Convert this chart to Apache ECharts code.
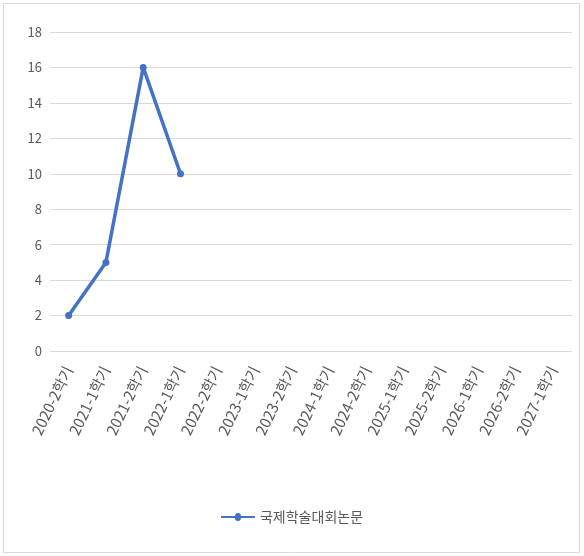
<!DOCTYPE html>
<html><head><meta charset="utf-8">
<script src="https://cdn.jsdelivr.net/npm/echarts@6/dist/echarts.min.js"></script>
<style>html,body{margin:0;padding:0;background:#fff}#c{width:584px;height:556px}</style>
</head><body><div id="c"></div>
<script>
const categories = ['2020-2학기','2021-1학기','2021-2학기','2022-1학기','2022-2학기','2023-1학기','2023-2학기','2024-1학기','2024-2학기','2025-1학기','2025-2학기','2026-1학기','2026-2학기','2027-1학기'];
const seriesName = '국제학술대회논문';
const values = [2, 5, 16, 10, null, null, null, null, null, null, null, null, null, null];
const chart = echarts.init(document.getElementById('c'));
chart.setOption({
  animation: false,
  textStyle: {fontFamily: 'Noto Sans CJK KR'},
  graphic: [{type:'rect', shape:{x:3.5,y:3.5,width:576,height:549}, style:{fill:'none', stroke:'#d9d9d9', lineWidth:1}, silent:true}],
  grid: {left: 50, right: 12, top: 32, bottom: 205},
  legend: {bottom: 27, left: 'center', itemWidth: 34, itemHeight: 10, itemGap: 4,
    textStyle: {color: '#595959', fontSize: 14},
    data: [{name: seriesName, icon: 'path://M0,4 L14,4 A3,3 0 1,1 20,4 L34,4 L34,6 L20,6 A3,3 0 1,1 14,6 L0,6 Z'}]},
  xAxis: {type: 'category', data: categories, boundaryGap: true,
    axisLine: {lineStyle: {color: '#d9d9d9'}}, axisTick: {show: false},
    axisLabel: {rotate: 64, color: '#595959', fontSize: 15, interval: 0, margin: 16}},
  yAxis: {type: 'value', min: 0, max: 18, interval: 2,
    axisLine: {show: false}, axisTick: {show: false},
    axisLabel: {color: '#595959', fontSize: 13, margin: 8},
    splitLine: {lineStyle: {color: '#d9d9d9'}}},
  series: [{name: seriesName, type: 'line', data: values, connectNulls: false,
    symbol: 'circle', symbolSize: 7, showSymbol: true,
    lineStyle: {color: '#4472C4', width: 3.5}, itemStyle: {color: '#4472C4'}}]
});
</script></body></html>
